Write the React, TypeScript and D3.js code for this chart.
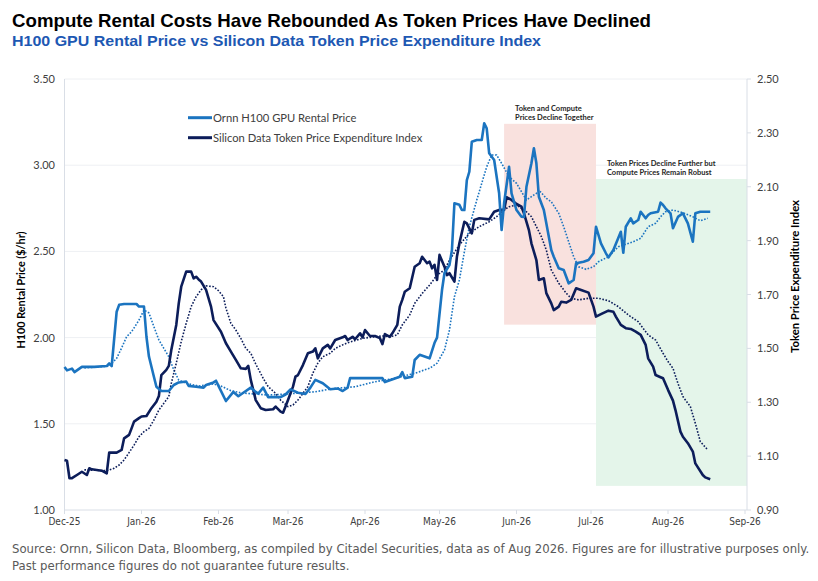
import React from 'react';
import * as d3 from 'd3';

// Ornn H100 GPU rental price ($/hr, left axis)
const gpuPrice: [string, number][] = [
  ["2025-12-01",1.83],["2025-12-02",1.81],["2025-12-04",1.82],["2025-12-05",1.80],["2025-12-07",1.82],["2025-12-08",1.83],
  ["2025-12-13",1.83],["2025-12-18",1.835],["2025-12-19",1.85],["2025-12-20",1.835],["2025-12-22",2.15],["2025-12-23",2.19],
  ["2025-12-25",2.195],["2025-12-30",2.195],["2025-12-31",2.18],["2026-01-02",2.18],["2026-01-03",2.005],["2026-01-04",1.89],
  ["2026-01-06",1.773],["2026-01-07",1.715],["2026-01-09",1.69],["2026-01-12",1.69],["2026-01-14",1.725],["2026-01-16",1.74],
  ["2026-01-19",1.745],["2026-01-20",1.72],["2026-01-23",1.715],["2026-01-26",1.71],["2026-01-27",1.725],["2026-01-30",1.74],
  ["2026-01-31",1.75],["2026-02-01",1.72],["2026-02-04",1.632],["2026-02-07",1.685],["2026-02-09",1.66],["2026-02-11",1.68],
  ["2026-02-14",1.71],["2026-02-16",1.685],["2026-02-17",1.675],["2026-02-19",1.71],["2026-02-21",1.655],["2026-02-26",1.655],
  ["2026-02-28",1.67],["2026-03-02",1.70],["2026-03-05",1.68],["2026-03-08",1.673],["2026-03-10",1.71],["2026-03-12",1.755],
  ["2026-03-15",1.735],["2026-03-18",1.70],["2026-03-21",1.705],["2026-03-23",1.69],["2026-03-25",1.71],["2026-03-26",1.765],
  ["2026-04-01",1.765],["2026-04-08",1.765],["2026-04-09",1.742],["2026-04-15",1.773],["2026-04-16",1.80],["2026-04-17",1.765],
  ["2026-04-20",1.773],["2026-04-21",1.87],["2026-04-23",1.90],["2026-04-27",1.88],["2026-04-29",1.97],["2026-04-30",2.0],
  ["2026-05-02",2.276],["2026-05-03",2.375],["2026-05-05",2.421],["2026-05-06",2.508],["2026-05-07",2.779],["2026-05-09",2.77],
  ["2026-05-10",2.74],["2026-05-11",2.74],["2026-05-12",2.914],["2026-05-13",2.962],["2026-05-14",3.136],["2026-05-16",3.146],
  ["2026-05-18",3.146],["2026-05-19",3.243],["2026-05-20",3.214],["2026-05-21",3.069],["2026-05-23",3.03],["2026-05-24",2.933],
  ["2026-05-25",2.837],["2026-05-26",2.624],["2026-05-27",2.779],["2026-05-29",2.991],["2026-05-30",2.837],["2026-06-01",2.74],
  ["2026-06-03",2.701],["2026-06-04",2.70],["2026-06-05",2.875],["2026-06-07",3.011],["2026-06-08",3.098],["2026-06-09",3.011],
  ["2026-06-10",2.817],["2026-06-12",2.74],["2026-06-13",2.663],["2026-06-15",2.508],["2026-06-16",2.469],["2026-06-18",2.402],
  ["2026-06-20",2.392],["2026-06-22",2.315],["2026-06-24",2.334],["2026-06-25",2.431],["2026-06-28",2.44],["2026-06-30",2.45],
  ["2026-07-02",2.489],["2026-07-03",2.643],["2026-07-05",2.547],["2026-07-07",2.489],["2026-07-08",2.465],["2026-07-10",2.508],
  ["2026-07-13",2.614],["2026-07-14",2.492],["2026-07-15",2.643],["2026-07-17",2.692],["2026-07-18",2.663],["2026-07-20",2.682],
  ["2026-07-21",2.73],["2026-07-23",2.692],["2026-07-24",2.711],["2026-07-25",2.721],["2026-07-28",2.73],["2026-07-29",2.783],
  ["2026-07-30",2.769],["2026-07-31",2.75],["2026-08-02",2.721],["2026-08-03",2.634],["2026-08-05",2.70],["2026-08-07",2.721],
  ["2026-08-09",2.663],["2026-08-11",2.556],["2026-08-12",2.721],["2026-08-14",2.73],["2026-08-18",2.73],
];

// dotted trend of the rental price
const gpuTrend: [string, number][] = [
  ["2025-12-09",1.824],["2025-12-19",1.835],["2025-12-22",1.88],["2025-12-24",1.94],["2025-12-26",2.005],["2025-12-28",2.034],
  ["2025-12-29",2.056],["2025-12-31",2.102],["2026-01-02",2.16],["2026-01-04",2.143],["2026-01-06",2.063],["2026-01-08",1.986],
  ["2026-01-10",1.938],["2026-01-12",1.889],["2026-01-14",1.812],["2026-01-16",1.754],["2026-01-19",1.735],["2026-01-24",1.719],
  ["2026-01-30",1.731],["2026-02-02",1.719],["2026-02-06",1.692],["2026-02-10",1.68],["2026-02-15",1.673],["2026-02-21",1.667],
  ["2026-03-01",1.673],["2026-03-12",1.686],["2026-03-20",1.706],["2026-03-28",1.715],["2026-04-05",1.744],["2026-04-13",1.764],
  ["2026-04-21",1.793],["2026-04-27",1.822],["2026-04-30",1.851],["2026-05-03",1.928],["2026-05-05",2.044],["2026-05-07",2.237],
  ["2026-05-09",2.334],["2026-05-11",2.497],["2026-05-13",2.643],["2026-05-16",2.798],["2026-05-18",2.895],["2026-05-20",2.991],
  ["2026-05-22",3.059],["2026-05-24",3.059],["2026-05-26",3.011],["2026-05-29",2.933],["2026-06-01",2.895],["2026-06-05",2.798],
  ["2026-06-09",2.837],["2026-06-10",2.856],["2026-06-13",2.808],["2026-06-15",2.788],["2026-06-18",2.721],["2026-06-20",2.643],
  ["2026-06-22",2.556],["2026-06-24",2.469],["2026-06-26",2.411],["2026-06-29",2.396],["2026-07-02",2.411],["2026-07-04",2.44],
  ["2026-07-08",2.469],["2026-07-12",2.527],["2026-07-18",2.556],["2026-07-21",2.576],["2026-07-24",2.643],["2026-07-27",2.663],
  ["2026-07-29",2.701],["2026-07-31",2.73],["2026-08-03",2.74],["2026-08-07",2.724],["2026-08-11",2.701],["2026-08-14",2.678],
  ["2026-08-17",2.692],
];

// Silicon Data token price expenditure index (right axis)
const tokenIndex: [string, number][] = [
  ["2025-12-01",1.086],["2025-12-02",1.083],["2025-12-03",1.018],["2025-12-04",1.018],["2025-12-06",1.030],["2025-12-08",1.042],
  ["2025-12-10",1.030],["2025-12-11",1.055],["2025-12-12",1.051],["2025-12-16",1.046],["2025-12-18",1.036],["2025-12-19",1.113],
  ["2025-12-22",1.113],["2025-12-24",1.123],["2025-12-25",1.166],["2025-12-27",1.179],["2025-12-28",1.203],["2025-12-29",1.228],
  ["2025-12-31",1.241],["2026-01-01",1.247],["2026-01-03",1.249],["2026-01-05",1.278],["2026-01-07",1.302],["2026-01-08",1.323],
  ["2026-01-09",1.401],["2026-01-11",1.42],["2026-01-12",1.435],["2026-01-13",1.494],["2026-01-15",1.587],["2026-01-16",1.667],
  ["2026-01-17",1.729],["2026-01-19",1.785],["2026-01-21",1.785],["2026-01-22",1.76],["2026-01-23",1.766],["2026-01-24",1.756],
  ["2026-01-25",1.748],["2026-01-27",1.717],["2026-01-29",1.655],["2026-01-30",1.605],["2026-02-02",1.562],["2026-02-04",1.519],
  ["2026-02-06",1.488],["2026-02-08",1.457],["2026-02-10",1.426],["2026-02-12",1.424],["2026-02-13",1.435],["2026-02-14",1.383],
  ["2026-02-16",1.308],["2026-02-18",1.278],["2026-02-20",1.271],["2026-02-23",1.274],["2026-02-24",1.284],["2026-02-26",1.265],
  ["2026-02-27",1.261],["2026-03-01",1.308],["2026-03-03",1.358],["2026-03-04",1.395],["2026-03-05",1.401],["2026-03-07",1.438],
  ["2026-03-09",1.482],["2026-03-11",1.488],["2026-03-12",1.50],["2026-03-13",1.463],["2026-03-15",1.50],["2026-03-17",1.513],
  ["2026-03-18",1.50],["2026-03-20",1.531],["2026-03-23",1.541],["2026-03-24",1.546],["2026-03-25",1.531],["2026-03-27",1.543],
  ["2026-03-28",1.534],["2026-03-30",1.556],["2026-03-31",1.541],["2026-04-01",1.568],["2026-04-03",1.546],["2026-04-05",1.546],
  ["2026-04-07",1.538],["2026-04-08",1.516],["2026-04-09",1.553],["2026-04-11",1.543],["2026-04-12",1.556],["2026-04-14",1.587],
  ["2026-04-15",1.655],["2026-04-16",1.68],["2026-04-17",1.71],["2026-04-19",1.723],["2026-04-21",1.803],["2026-04-23",1.816],
  ["2026-04-24",1.84],["2026-04-26",1.816],["2026-04-27",1.822],["2026-04-28",1.797],["2026-04-29",1.81],["2026-04-30",1.754],
  ["2026-05-01",1.847],["2026-05-03",1.803],["2026-05-04",1.772],["2026-05-05",1.779],["2026-05-07",1.748],["2026-05-08",1.84],
  ["2026-05-09",1.89],["2026-05-11",1.97],["2026-05-12",1.964],["2026-05-14",1.927],["2026-05-15",1.977],["2026-05-17",1.983],
  ["2026-05-21",1.979],["2026-05-23",2.007],["2026-05-25",2.014],["2026-05-27",2.014],["2026-05-28",2.061],["2026-05-30",2.051],
  ["2026-06-01",2.036],["2026-06-03",2.026],["2026-06-04",2.001],["2026-06-06",1.939],["2026-06-07",1.89],["2026-06-09",1.828],
  ["2026-06-10",1.754],["2026-06-12",1.76],["2026-06-13",1.705],["2026-06-15",1.667],["2026-06-16",1.642],["2026-06-18",1.655],
  ["2026-06-19",1.673],["2026-06-21",1.67],["2026-06-23",1.68],["2026-06-25",1.723],["2026-06-27",1.717],["2026-06-30",1.707],
  ["2026-07-02",1.655],["2026-07-03",1.618],["2026-07-05",1.627],["2026-07-08",1.64],["2026-07-10",1.636],["2026-07-11",1.618],
  ["2026-07-13",1.587],["2026-07-15",1.575],["2026-07-17",1.572],["2026-07-19",1.562],["2026-07-21",1.55],["2026-07-23",1.513],
  ["2026-07-24",1.463],["2026-07-26",1.432],["2026-07-27",1.401],["2026-07-29",1.393],["2026-07-30",1.389],["2026-08-01",1.346],
  ["2026-08-03",1.306],["2026-08-04",1.271],["2026-08-06",1.191],["2026-08-07",1.172],["2026-08-09",1.148],["2026-08-11",1.117],
  ["2026-08-12",1.073],["2026-08-15",1.03],["2026-08-16",1.021],["2026-08-18",1.014],
];

// dotted trend of the token index
const tokenTrend: [string, number][] = [
  ["2025-12-09",1.049],["2025-12-18",1.046],["2025-12-21",1.055],["2025-12-23",1.067],["2025-12-25",1.086],["2025-12-27",1.113],
  ["2025-12-29",1.141],["2025-12-31",1.172],["2026-01-02",1.191],["2026-01-04",1.203],["2026-01-06",1.234],["2026-01-08",1.271],
  ["2026-01-10",1.296],["2026-01-12",1.321],["2026-01-13",1.37],["2026-01-15",1.445],["2026-01-17",1.525],["2026-01-19",1.593],
  ["2026-01-21",1.655],["2026-01-23",1.692],["2026-01-25",1.717],["2026-01-27",1.732],["2026-01-30",1.729],["2026-02-01",1.714],
  ["2026-02-03",1.692],["2026-02-04",1.649],["2026-02-06",1.593],["2026-02-08",1.568],["2026-02-10",1.537],["2026-02-12",1.50],
  ["2026-02-14",1.482],["2026-02-16",1.442],["2026-02-19",1.389],["2026-02-21",1.358],["2026-02-24",1.333],["2026-02-26",1.308],
  ["2026-03-01",1.284],["2026-03-03",1.29],["2026-03-05",1.308],["2026-03-07",1.333],["2026-03-09",1.358],["2026-03-11",1.408],
  ["2026-03-13",1.445],["2026-03-15",1.469],["2026-03-18",1.482],["2026-03-20",1.50],["2026-03-23",1.513],["2026-03-25",1.521],
  ["2026-03-28",1.529],["2026-03-31",1.537],["2026-04-03",1.541],["2026-04-08",1.546],["2026-04-11",1.543],["2026-04-14",1.55],
  ["2026-04-16",1.587],["2026-04-19",1.624],["2026-04-21",1.667],["2026-04-24",1.704],["2026-04-27",1.735],["2026-04-30",1.772],
  ["2026-05-03",1.791],["2026-05-05",1.828],["2026-05-09",1.884],["2026-05-13",1.927],["2026-05-17",1.952],["2026-05-21",1.97],
  ["2026-05-24",1.989],["2026-05-27",2.014],["2026-05-29",2.026],["2026-06-01",2.032],["2026-06-03",2.02],["2026-06-05",2.007],
  ["2026-06-07",1.989],["2026-06-09",1.952],["2026-06-11",1.915],["2026-06-13",1.865],["2026-06-15",1.791],["2026-06-18",1.742],
  ["2026-06-21",1.705],["2026-06-23",1.686],["2026-06-26",1.68],["2026-06-30",1.686],["2026-07-04",1.686],["2026-07-08",1.677],
  ["2026-07-12",1.655],["2026-07-16",1.624],["2026-07-20",1.599],["2026-07-24",1.55],["2026-07-27",1.531],["2026-07-30",1.482],
  ["2026-08-01",1.451],["2026-08-03",1.426],["2026-08-05",1.37],["2026-08-07",1.321],["2026-08-10",1.284],["2026-08-12",1.222],
  ["2026-08-14",1.154],["2026-08-17",1.123],
];

const leftTicks = [1.0, 1.5, 2.0, 2.5, 3.0, 3.5];
const rightTicks = [0.9, 1.1, 1.3, 1.5, 1.7, 1.9, 2.1, 2.3, 2.5];
const monthTicks = ["2025-12-01","2026-01-01","2026-02-01","2026-03-01","2026-04-01","2026-05-01","2026-06-01","2026-07-01","2026-08-01","2026-09-01"];

// shaded periods: [start, end, low, high] in left-axis units
const periods = [
  { from: "2026-05-27", to: "2026-07-03", lo: 2.075, hi: 3.24, fill: "#f9e1de",
    note: ["Token and Compute", "Prices Decline Together"] },
  { from: "2026-07-03", to: "2026-09-02", lo: 1.14, hi: 2.92, fill: "#e4f5ea",
    note: ["Token Prices Decline Further but", "Compute Prices Remain Robust"] },
];

const seriesNames = ["Ornn H100 GPU Rental Price", "Silicon Data Token Price Expenditure Index"];

const LIGHT = "#1b74c0";
const NAVY = "#0c1d5a";
const parse = d3.timeParse("%Y-%m-%d");

const W = 818, H = 581;
const M = { left: 64.5, right: 747, top: 79, bottom: 510 };

export default function App() {
  const x = d3.scaleTime()
    .domain([parse("2025-12-01")!, parse("2026-09-01")!])
    .range([M.left, 745]);
  const yL = d3.scaleLinear().domain([1, 3.5]).range([M.bottom, M.top]);
  const yR = d3.scaleLinear().domain([0.9, 2.5]).range([M.bottom, M.top]);

  const lineL = d3.line<[string, number]>().x(d => x(parse(d[0])!)).y(d => yL(d[1]));
  const lineR = d3.line<[string, number]>().x(d => x(parse(d[0])!)).y(d => yR(d[1]));

  const tickFont = "Lato, Carlito, 'Liberation Sans', sans-serif";
  const narrow = "'Liberation Sans Narrow', 'Arial Narrow', 'DejaVu Sans Condensed', sans-serif";

  return (
    <svg width={W} height={H} style={{ position: 'absolute', left: 0, top: 0, background: '#fff' }}
      fontFamily="'Liberation Sans', Arial, sans-serif">
      <text x={12} y={27} fontSize={18.5} fontWeight="bold" fill="#000" textLength={639} lengthAdjust="spacingAndGlyphs">
        Compute Rental Costs Have Rebounded As Token Prices Have Declined
      </text>
      <text x={12} y={46} fontSize={15.5} fontWeight="bold" fill="#1d58b3" textLength={529} lengthAdjust="spacingAndGlyphs">
        H100 GPU Rental Price vs Silicon Data Token Price Expenditure Index
      </text>

      {/* gridlines */}
      {leftTicks.slice(1).map(t => (
        <line key={t} x1={M.left} x2={M.right} y1={yL(t)} y2={yL(t)} stroke="#eef0f3" strokeWidth={1} />
      ))}

      {/* shaded periods */}
      {periods.map(p => (
        <rect key={p.from} x={x(parse(p.from)!)} y={yL(p.hi)}
          width={Math.min(x(parse(p.to)!), M.right) - x(parse(p.from)!)}
          height={yL(p.lo) - yL(p.hi)} fill={p.fill} />
      ))}

      {/* axes */}
      <line x1={M.left} x2={M.left} y1={M.top} y2={M.bottom} stroke="#d9dee6" />
      <line x1={M.left} x2={M.right} y1={M.bottom} y2={M.bottom} stroke="#d9dee6" />
      <line x1={M.right} x2={M.right} y1={M.top} y2={M.bottom} stroke="#d9dee6" />
      {monthTicks.map(m => (
        <g key={m}>
          <line x1={x(parse(m)!)} x2={x(parse(m)!)} y1={M.bottom} y2={M.bottom + 4} stroke="#d9dee6" />
          <text x={x(parse(m)!)} y={M.bottom + 15} fontSize={10} textAnchor="middle" fill="#404040" fontFamily={narrow}>
            {d3.timeFormat("%b-%y")(parse(m)!)}
          </text>
        </g>
      ))}
      {leftTicks.map(t => (
        <text key={t} x={55} y={yL(t) + 4} fontSize={11} textAnchor="end" fill="#404040" fontFamily={tickFont}>
          {d3.format(".2f")(t)}
        </text>
      ))}
      {rightTicks.map(t => (
        <g key={t}>
          <line x1={M.right} x2={M.right + 4} y1={yR(t)} y2={yR(t)} stroke="#d9dee6" />
          <text x={757} y={yR(t) + 4} fontSize={11} fill="#404040" fontFamily={tickFont}>
            {d3.format(".2f")(t)}
          </text>
        </g>
      ))}
      <text transform="translate(25,290) rotate(-90)" fontSize={12} fontWeight="bold"
        textAnchor="middle" fill="#000" fontFamily={tickFont} textLength={117} lengthAdjust="spacingAndGlyphs">
        H100 Rental Price ($/hr)
      </text>
      <text transform="translate(799,276.5) rotate(-90)" fontSize={12} fontWeight="bold"
        textAnchor="middle" fill="#000" fontFamily={tickFont} textLength={153} lengthAdjust="spacingAndGlyphs">
        Token Price Expenditure Index
      </text>

      {/* series */}
      <path d={lineL(gpuTrend)!} fill="none" stroke={LIGHT} strokeWidth={1.6} strokeDasharray="1.6 1.6" />
      <path d={lineR(tokenTrend)!} fill="none" stroke={NAVY} strokeWidth={1.6} strokeDasharray="1.6 1.6" />
      <path d={lineR(tokenIndex)!} fill="none" stroke={NAVY} strokeWidth={2.6} strokeLinejoin="round" />
      <path d={lineL(gpuPrice)!} fill="none" stroke={LIGHT} strokeWidth={2.6} strokeLinejoin="round" />

      {/* period notes */}
      {periods.map(p => (
        <text key={p.note[0]} x={x(parse(p.from)!) + 11} y={yL(p.hi) - 13} fontSize={7.5} fontWeight="bold"
          fill="#262626" fontFamily={tickFont}>
          <tspan x={x(parse(p.from)!) + 11}>{p.note[0]}</tspan>
          <tspan x={x(parse(p.from)!) + 11} dy={9}>{p.note[1]}</tspan>
        </text>
      ))}

      {/* legend */}
      {seriesNames.map((n, i) => (
        <g key={n} transform={`translate(188,${117.7 + i * 20})`}>
          <line x1={0} x2={24} y1={0} y2={0} stroke={i === 0 ? LIGHT : NAVY} strokeWidth={3} />
          <text x={25} y={4} fontSize={11.2} fill="#404040" fontFamily={tickFont}>{n}</text>
        </g>
      ))}

      {/* footer */}
      <text x={12} y={553} fontSize={13} fill="#595959" fontFamily={narrow}>
        Source: Ornn, Silicon Data, Bloomberg, as compiled by Citadel Securities, data as of Aug 2026. Figures are for illustrative purposes only.
      </text>
      <text x={12} y={570} fontSize={13} fill="#595959" fontFamily={narrow}>
        Past performance figures do not guarantee future results.
      </text>
    </svg>
  );
}
